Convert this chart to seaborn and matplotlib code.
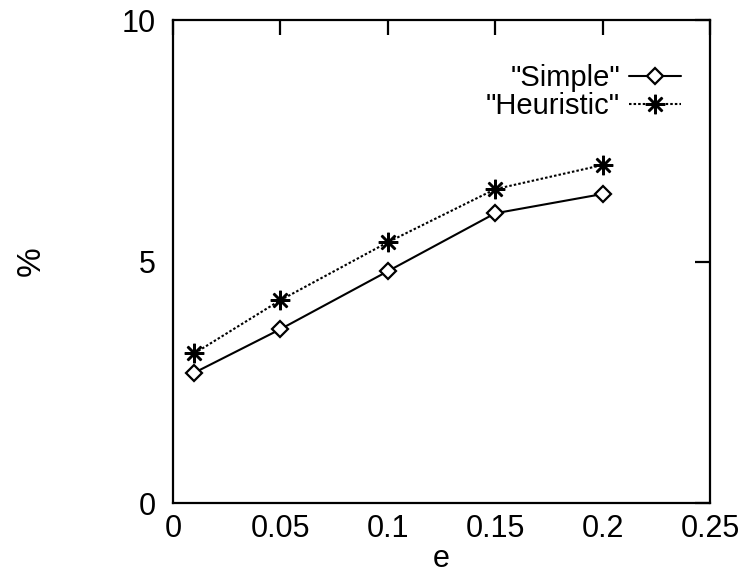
import numpy as np
import pandas as pd
import matplotlib
matplotlib.use("Agg")
import matplotlib.pyplot as plt
import seaborn as sns

sns.set_style("white")
plt.rcParams['font.family'] = ['Liberation Sans', 'DejaVu Sans']
plt.rcParams['text.color'] = 'black'
plt.rcParams['axes.labelcolor'] = 'black'

e_vals = [0.01, 0.05, 0.1, 0.15, 0.2]
simple = [2.7, 3.6, 4.8, 6.0, 6.4]
heuristic = [3.1, 4.2, 5.4, 6.5, 7.0]

fig = plt.figure(figsize=(7.45, 5.75), dpi=100)
ax = fig.add_axes([0.232, 0.125, 0.721, 0.84])

sns.lineplot(x=e_vals, y=simple, color='black', marker='D', markersize=8,
             markerfacecolor='white', markeredgecolor='black', markeredgewidth=1.6,
             linewidth=1.5, ax=ax, label='"Simple"')
sns.lineplot(x=e_vals, y=heuristic, color='black', marker=(8, 2, 0), markersize=14,
             markeredgecolor='black', markeredgewidth=1.8, linewidth=1.5,
             linestyle=(0, (1.2, 1.0)), ax=ax, label='"Heuristic"')

ax.set_xlim(0, 0.25)
ax.set_ylim(0, 10)
ax.set_xticks([0, 0.05, 0.1, 0.15, 0.2, 0.25])
ax.set_xticklabels(['0', '0.05', '0.1', '0.15', '0.2', '0.25'])
ax.set_yticks([0, 5, 10])
ax.tick_params(direction='in', length=11, width=1.6, top=True, right=True,
               labelsize=22, colors='black')
ax.tick_params(axis='x', pad=8)
ax.tick_params(axis='y', pad=12)
for s in ax.spines.values():
    s.set_linewidth(1.6)
    s.set_color('black')

ax.set_xlabel('e', fontsize=22, labelpad=0)
ax.set_ylabel('%', fontsize=24)
ax.yaxis.set_label_coords(-0.235, 0.5)

ax.legend(loc='upper right', frameon=False, markerfirst=False, fontsize=21,
          handlelength=1.8, handletextpad=0.3, labelspacing=0.0,
          borderaxespad=0.0, bbox_to_anchor=(0.968, 0.933))

fig.savefig('out.png', dpi=100)
